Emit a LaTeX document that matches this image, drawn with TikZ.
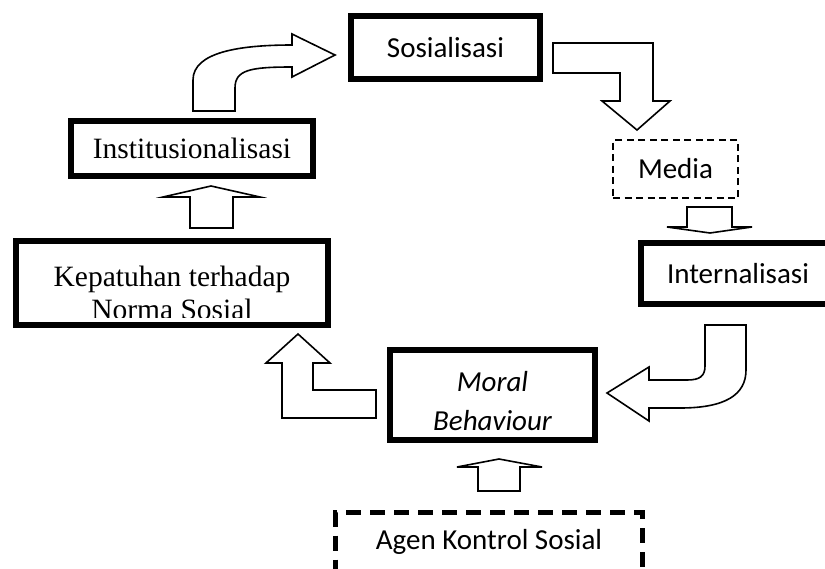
\documentclass[tikz,border=0pt]{standalone}
\usepackage{fontspec}
\setmainfont{Carlito}
\newfontfamily\timesfont{Liberation Serif}

\begin{document}
\begin{tikzpicture}[x=1pt, y=-1pt,
        every node/.style={font=\fontsize{29}{35}\selectfont, inner sep=0pt, outer sep=0pt, align=center},
        box/.style={draw, line width=6pt},
        mediabox/.style={draw, line width=1.8pt, dash pattern=on 7pt off 4.5pt},
        agenbox/.style={draw, line width=5pt, dash pattern=on 15pt off 9pt},
        blok/.style={draw, line width=1.6pt, fill=white, line join=miter}]
        \useasboundingbox (0,0) rectangle (825,568);
        % kotak-kotak
        \node (sosialisasi) at (445.5,47.5) [box, minimum width=189pt, minimum height=63pt] {Sosialisasi};
        \node (media) at (675.5,169) [mediabox, minimum width=125pt, minimum height=58pt] {Media};
        \node (internalisasi) at (738,273.5) [box, minimum width=194pt, minimum height=61pt] {Internalisasi};
        \node (moralteks) at (492.5,401) [font=\itshape\fontsize{29}{39}\selectfont] {Moral\\Behaviour};
        \node (moral) at (492.5,395) [box, minimum width=205pt, minimum height=90pt] {};
        \node (agen) at (489,542) [agenbox, minimum width=307pt, minimum height=59pt] {Agen Kontrol Sosial};
        \begin{scope}
            \clip (0,0) rectangle (825,317);
            \node (kepatuhanteks) at (172,293) [font=\timesfont\fontsize{29.5}{33}\selectfont] {Kepatuhan terhadap\\Norma Sosial};
        \end{scope}
        \node (kepatuhan) at (172,283) [box, minimum width=312pt, minimum height=84pt] {};
        \node (institusi) at (192,148.5) [box, minimum width=242pt, minimum height=55pt, font=\timesfont\fontsize{29.5}{33}\selectfont] {Institusionalisasi};
        % panah blok
        \draw[blok] (193,111) -- (193,80) .. controls (193,52) and (240,45) .. (292,45) -- (292,34) -- (335,55)
            -- (292,77) -- (292,67) .. controls (250,67) and (235,70) .. (235,88) -- (235,111) -- cycle;
        \draw[blok] (553,43) -- (653,43) -- (653,101) -- (670,101) -- (637,130) -- (602,101) -- (620,101)
            -- (620,73) -- (553,73) -- cycle;
        \draw[blok] (687,207) -- (732,207) -- (732,227) -- (752,227) -- (710,233) -- (667,227) -- (687,227) -- cycle;
        \draw[blok] (705,325) -- (746,325) -- (746,370) .. controls (746,395) and (725,408) .. (680,408) -- (649,408)
            -- (649,421) -- (607,393) -- (649,367) -- (649,380) -- (687,380) .. controls (700,380) and (705,376) .. (705,366) -- cycle;
        \draw[blok] (376,390) -- (376,418) -- (282,418) -- (282,363) -- (266,363) -- (298,334) -- (330,363)
            -- (313,363) -- (313,390) -- cycle;
        \draw[blok] (190,228) -- (190,197) -- (163,197) -- (211,186) -- (260,197) -- (233,197) -- (233,228) -- cycle;
        \draw[blok] (478,491) -- (478,467) -- (457,467) -- (499,459) -- (542,467) -- (520,467) -- (520,491) -- cycle;
\end{tikzpicture}
\end{document}
